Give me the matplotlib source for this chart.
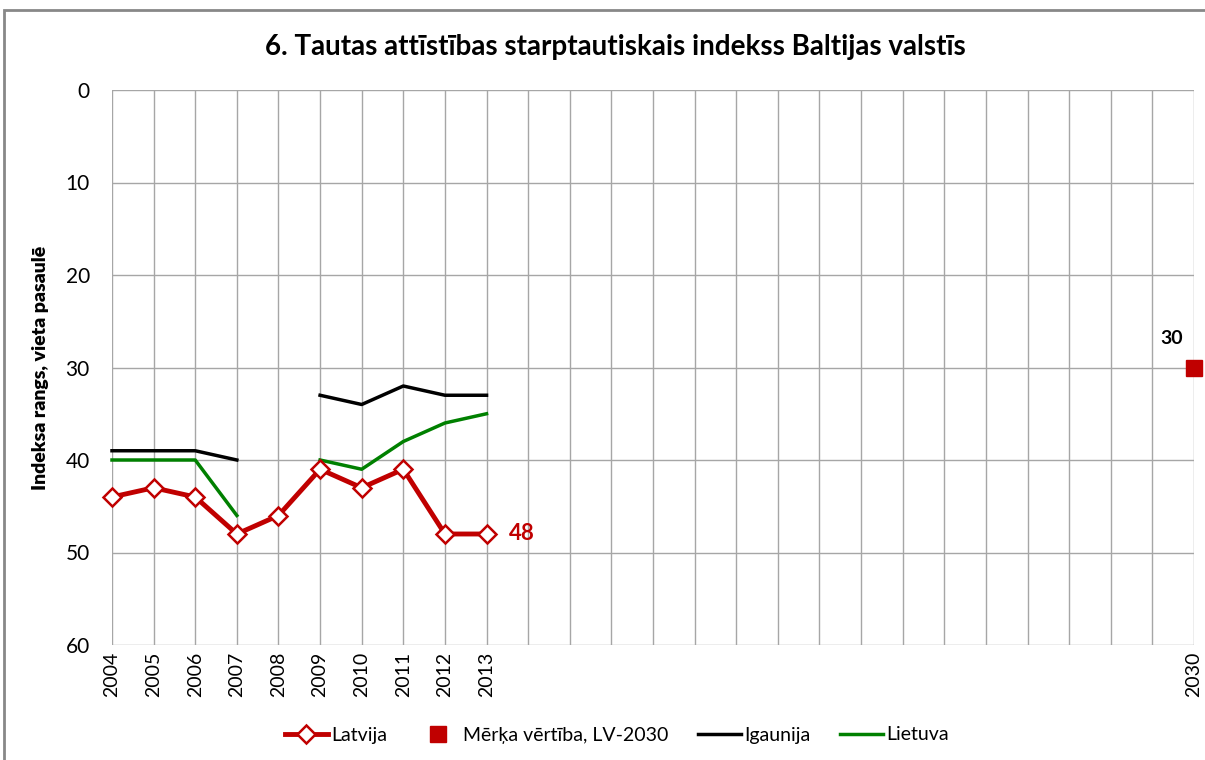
import matplotlib
matplotlib.use("Agg")
import matplotlib.pyplot as plt
import numpy as np
from matplotlib.patches import Rectangle

years = list(range(2004, 2031))
labeled_years = [2004, 2005, 2006, 2007, 2008, 2009, 2010, 2011, 2012, 2013, 2030]
data_years = [2004, 2005, 2006, 2007, 2008, 2009, 2010, 2011, 2012, 2013]
latvija = [44, 43, 44, 48, 46, 41, 43, 41, 48, 48]
igaunija = [39, 39, 39, 40, np.nan, 33, 34, 32, 33, 33]
lietuva = [40, 40, 40, 46, np.nan, 40, 41, 38, 36, 35]
target_year = [2030]
target_value = [30]

plt.rcParams['font.family'] = ['Lato', 'DejaVu Sans']

fig = plt.figure(figsize=(12.05, 7.6), dpi=100)
ax = fig.add_axes([112/1205, 1-645/760, (1194-112)/1205, (645-90)/760])

idx = {y: i for i, y in enumerate(years)}
xd = [idx[y] for y in data_years]
grid_c = '#A6A6A6'

for i in range(len(years)):
    ax.axvline(i, color=grid_c, lw=1.0, zorder=0)
for v in range(0, 61, 10):
    ax.axhline(v, color=grid_c, lw=1.0, zorder=0)

ax.plot(xd, igaunija, color='black', lw=2.5, zorder=3, label='Igaunija', clip_on=False)
ax.plot(xd, lietuva, color='#008000', lw=2.5, zorder=3, label='Lietuva', clip_on=False)
ax.plot(xd, latvija, color='#C00000', lw=3.5, marker='D', markersize=9,
        markerfacecolor='white', markeredgecolor='#C00000', markeredgewidth=1.8,
        zorder=5, label='Latvija', clip_on=False)
ax.plot([idx[y] for y in target_year], target_value, linestyle='none', marker='s',
        markersize=12, color='#C00000', zorder=6, label='Mērķa vērtība, LV-2030', clip_on=False)

ax.annotate(str(latvija[-1]), (xd[-1], latvija[-1]), xytext=(16, 0), textcoords='offset points',
            color='#C00000', fontsize=16, fontweight='bold', va='center', ha='left')
ax.annotate(str(target_value[0]), (idx[target_year[0]], target_value[0]), xytext=(-24, 21),
            textcoords='offset points', color='black', fontsize=14, fontweight='bold',
            va='center', ha='left')

ax.set_xlim(0, len(years) - 1)
ax.set_ylim(60, 0)
ax.set_yticks(range(0, 61, 10))
ax.set_xticks([idx[y] for y in labeled_years])
ax.set_xticklabels([str(y) for y in labeled_years], rotation=90, fontsize=14)
ax.tick_params(axis='y', labelsize=15, length=0, pad=16)
ax.tick_params(axis='x', length=0, pad=5)
for s in ax.spines.values():
    s.set_visible(False)

ax.set_ylabel('Indeksa rangs, vieta pasaulē', fontsize=14, fontweight='heavy', labelpad=12)

fig.text(615/1205, 1-47/760, '6. Tautas attīstības starptautiskais indekss Baltijas valstīs',
         ha='center', va='center', fontsize=20, fontweight='bold')

handles, labels = ax.get_legend_handles_labels()
order = [2, 3, 0, 1]
leg = fig.legend([handles[i] for i in order], [labels[i] for i in order], loc='center',
                 bbox_to_anchor=(617/1205, 1-735/760), ncol=4, frameon=False, fontsize=14,
                 handlelength=2.2, columnspacing=1.5, handletextpad=0.2)

fig.patches.append(Rectangle((4/1205, -0.01), 1.1, 1-10/760 + 0.01, transform=fig.transFigure,
                             fill=False, edgecolor='#888888', lw=2))

fig.savefig('out.png', dpi=100)
